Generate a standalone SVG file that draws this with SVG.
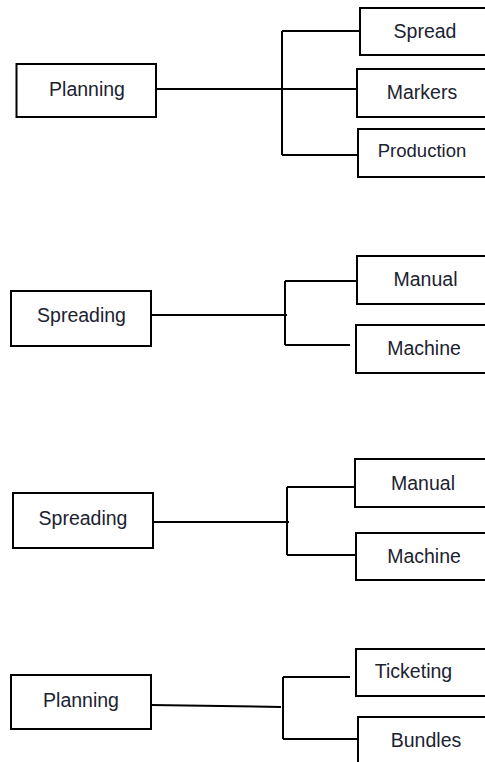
<svg xmlns="http://www.w3.org/2000/svg" width="485" height="762" viewBox="0 0 485 762">
<style>
.box{fill:#fff;stroke:#000;stroke-width:2}
.ln{fill:none;stroke:#000;stroke-width:2}
text{font-family:"Liberation Sans",Arial,sans-serif;font-size:19.5px;fill:#1c2230;text-anchor:middle}
.sm{font-size:18.5px}
</style>
<rect width="485" height="762" fill="#fff"/>
<g id="connectors">
<path class="ln" d="M156 89H358M282 31V155M282 31H360M282 155H358"/>
<path class="ln" d="M151 315H287M285 281V345M285 281H357M285 345H350"/>
<path class="ln" d="M153 522H289M287 487V555M287 487H355M287 555H362"/>
<path class="ln" d="M151 705L281 707M283 677V739M283 677H350M283 739H358"/>
</g>
<g id="planning1"><rect class="box" x="16.5" y="64" width="139.5" height="53"/><text x="87" y="96">Planning</text></g>
<g id="spread"><rect class="box" x="360" y="8" width="130" height="47"/><text x="425" y="37.5">Spread</text></g>
<g id="markers"><rect class="box" x="357" y="69" width="133" height="48"/><text x="422" y="98.5">Markers</text></g>
<g id="production"><rect class="box" x="358" y="129" width="132" height="48"/><text class="sm" x="422" y="156.5">Production</text></g>
<g id="spreading1"><rect class="box" x="11" y="291" width="140" height="55"/><text x="81.5" y="321.5">Spreading</text></g>
<g id="manual1"><rect class="box" x="357" y="256" width="133" height="48"/><text x="425.5" y="285.5">Manual</text></g>
<g id="machine1"><rect class="box" x="356" y="325" width="134" height="48"/><text x="424" y="355">Machine</text></g>
<g id="spreading2"><rect class="box" x="13" y="493" width="140" height="55"/><text x="83" y="525">Spreading</text></g>
<g id="manual2"><rect class="box" x="355" y="459" width="135" height="48"/><text x="423" y="490">Manual</text></g>
<g id="machine2"><rect class="box" x="356" y="533" width="134" height="47"/><text x="424" y="562.5">Machine</text></g>
<g id="planning2"><rect class="box" x="11" y="675" width="140" height="54"/><text x="81" y="707">Planning</text></g>
<g id="ticketing"><rect class="box" x="356" y="649" width="134" height="47"/><text x="413.5" y="678">Ticketing</text></g>
<g id="bundles"><rect class="box" x="358" y="717" width="132" height="60"/><text x="426" y="746.5">Bundles</text></g>
</svg>
